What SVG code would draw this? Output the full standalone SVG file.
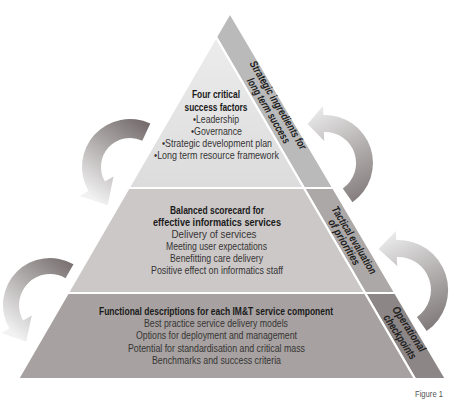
<svg xmlns="http://www.w3.org/2000/svg" width="457" height="404" viewBox="0 0 457 404">
<defs>
<linearGradient id="g1" gradientUnits="userSpaceOnUse" x1="150" y1="120" x2="95" y2="200"><stop offset="0" stop-color="#6f6666"/><stop offset="1" stop-color="#f2f2f2"/></linearGradient>
<linearGradient id="g2" gradientUnits="userSpaceOnUse" x1="75" y1="260" x2="15" y2="335"><stop offset="0" stop-color="#736a6a"/><stop offset="1" stop-color="#f2f2f2"/></linearGradient>
<linearGradient id="g3" gradientUnits="userSpaceOnUse" x1="305" y1="112" x2="355" y2="200"><stop offset="0" stop-color="#ededed"/><stop offset="1" stop-color="#877f7f"/></linearGradient>
<linearGradient id="g4" gradientUnits="userSpaceOnUse" x1="378" y1="238" x2="425" y2="330"><stop offset="0" stop-color="#ededed"/><stop offset="1" stop-color="#827b7b"/></linearGradient>
<linearGradient id="gtop" x1="0" y1="0" x2="0" y2="1"><stop offset="0" stop-color="#ececec"/><stop offset="1" stop-color="#dcdcdc"/></linearGradient>
</defs>
<style>
.face{stroke:#ffffff;stroke-width:2.2;stroke-linejoin:round}
.t{font-family:"Liberation Sans Narrow","Liberation Sans",Arial,sans-serif;font-size:11.5px;text-anchor:middle;fill:#363434}
.b{font-weight:bold;fill:#1a1a1a}
.s{font-family:"Liberation Sans Narrow","Liberation Sans",Arial,sans-serif;font-size:11px;font-weight:bold;font-style:italic;text-anchor:middle;fill:#1e1e1e}
.fig{font-family:"Liberation Sans Narrow","Liberation Sans",Arial,sans-serif;font-size:9.5px;fill:#555555}
</style>
<g id="connectors">
<path id="arrow-top-left" d="M150.3,123.5 A48,48 0 0 0 88.4,191 L79.8,196 L107.7,205.3 L113.5,176.5 L104.9,181.5 A29,29 0 0 1 142.3,140.7 Z" fill="url(#g1)"/>
<path id="arrow-bottom-left" d="M73.5,264.3 A47,47 0 0 0 9.3,328.5 L1.5,333 L26.2,341.8 L31.8,315.5 L23.15,320.5 A31,31 0 0 1 65.5,278.2 Z" fill="url(#g2)"/>
<path id="arrow-top-right" d="M352.5,202.3 A48,48 0 0 0 323.3,115 L323,106 L307.6,124.1 L324.2,141 L323.9,132 A31,31 0 0 1 342.8,188.4 Z" fill="url(#g3)"/>
<path id="arrow-bottom-right" d="M426.7,331 A50,50 0 0 0 396.3,240 L395.9,231 L378.6,249.1 L397.2,266 L396.8,257 A33,33 0 0 1 416.9,317 Z" fill="url(#g4)"/>
</g>
<g id="strip-top">
<polygon class="face" points="230,13 333.3,188 303.9,188 216,37" fill="#bababa"/>
<text class="s" transform="translate(275,107) rotate(59.3)" textLength="101" lengthAdjust="spacingAndGlyphs">Strategic ingredients for</text>
<text class="s" transform="translate(265.5,112.6) rotate(59.3)" textLength="74" lengthAdjust="spacingAndGlyphs">long term success</text>
</g>
<g id="strip-middle">
<polygon class="face" points="303.9,188 333.3,188 395.3,293 365,293" fill="#aca8a8"/>
<text class="s" transform="translate(351,242) rotate(59.3)" textLength="77" lengthAdjust="spacingAndGlyphs">Tactical evaluation</text>
<text class="s" transform="translate(341,244) rotate(59.3)" textLength="52" lengthAdjust="spacingAndGlyphs">of priorities</text>
</g>
<g id="strip-bottom">
<polygon class="face" points="365,293 395.3,293 446,379 415,379" fill="#8c8686"/>
<text class="s" transform="translate(406,331) rotate(57)" textLength="52" lengthAdjust="spacingAndGlyphs">Operational</text>
<text class="s" transform="translate(397,339) rotate(57)" textLength="51" lengthAdjust="spacingAndGlyphs">checkpoints</text>
</g>
<g id="tier-top">
<polygon class="face" points="216,37 303.9,188 128.6,188" fill="url(#gtop)"/>
<text class="t b" x="216" y="98" textLength="48" lengthAdjust="spacingAndGlyphs">Four critical</text>
<text class="t b" x="216" y="111" textLength="63" lengthAdjust="spacingAndGlyphs">success factors</text>
<text class="t" x="216" y="123" textLength="46" lengthAdjust="spacingAndGlyphs">•Leadership</text>
<text class="t" x="216.5" y="135" textLength="51" lengthAdjust="spacingAndGlyphs">•Governance</text>
<text class="t" x="217" y="147" textLength="110" lengthAdjust="spacingAndGlyphs">•Strategic development plan</text>
<text class="t" x="216.5" y="159" textLength="125" lengthAdjust="spacingAndGlyphs">•Long term resource framework</text>
</g>
<g id="tier-middle">
<polygon class="face" points="128.6,188 303.9,188 365,293 67.8,293" fill="#ccc8c8"/>
<text class="t b" x="217" y="214" textLength="94" lengthAdjust="spacingAndGlyphs">Balanced scorecard for</text>
<text class="t b" x="217" y="226" textLength="128" lengthAdjust="spacingAndGlyphs">effective informatics services</text>
<text class="t" x="214" y="238" textLength="85" lengthAdjust="spacingAndGlyphs">Delivery of services</text>
<text class="t" x="216.5" y="250" textLength="101" lengthAdjust="spacingAndGlyphs">Meeting user expectations</text>
<text class="t" x="216.5" y="262" textLength="93" lengthAdjust="spacingAndGlyphs">Benefitting care delivery</text>
<text class="t" x="217" y="274" textLength="132" lengthAdjust="spacingAndGlyphs">Positive effect on informatics staff</text>
</g>
<g id="tier-bottom">
<polygon class="face" points="67.8,293 365,293 415,379 18,379" fill="#a7a2a1"/>
<text class="t b" x="216" y="315" textLength="234" lengthAdjust="spacingAndGlyphs">Functional descriptions for each IM&amp;T service component</text>
<text class="t" x="216" y="327" textLength="144" lengthAdjust="spacingAndGlyphs">Best practice service delivery models</text>
<text class="t" x="216.5" y="339" textLength="161" lengthAdjust="spacingAndGlyphs">Options for deployment and management</text>
<text class="t" x="216.5" y="352" textLength="177" lengthAdjust="spacingAndGlyphs">Potential for standardisation and critical mass</text>
<text class="t" x="216.5" y="364" textLength="129" lengthAdjust="spacingAndGlyphs">Benchmarks and success criteria</text>
</g>
<text class="fig" x="415" y="397" textLength="28" lengthAdjust="spacingAndGlyphs">Figure 1</text>
</svg>
